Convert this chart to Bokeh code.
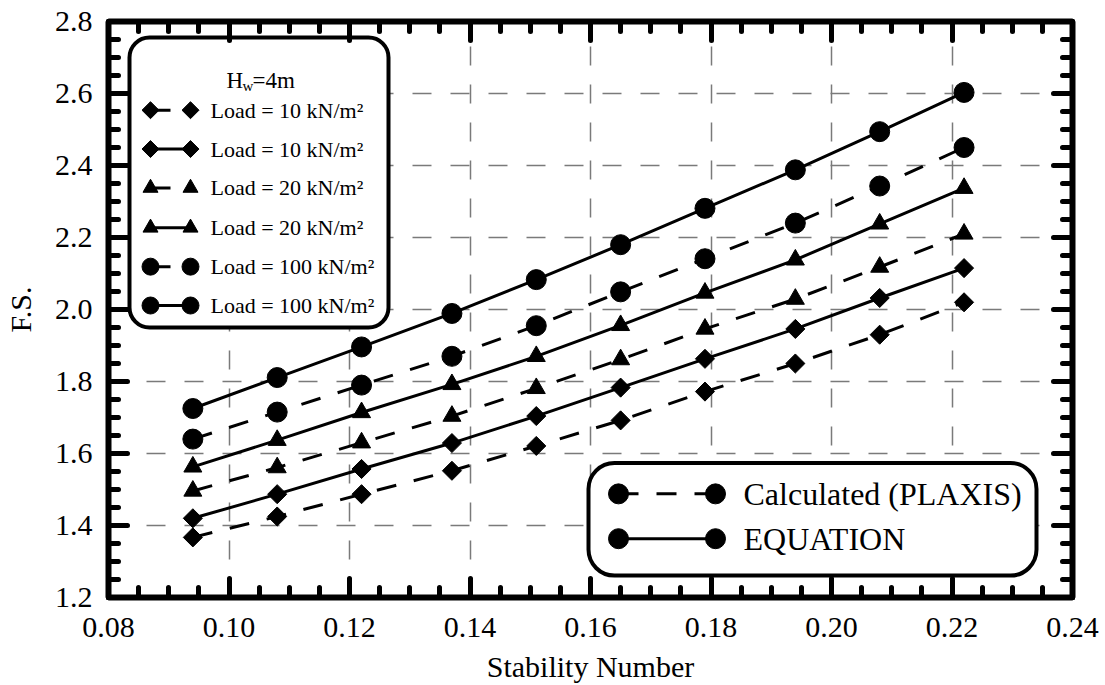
import numpy as np
from bokeh.plotting import figure
from bokeh.models import (Range1d, LinearAxis, FixedTicker, PrintfTickFormatter,
                          CustomJSTickFormatter, BoxAnnotation, Label)
from bokeh.embed import file_html
from bokeh.resources import INLINE

# ---------------- data ----------------
stability_number = [0.094, 0.108, 0.122, 0.137, 0.151, 0.165, 0.179, 0.194, 0.208, 0.222]
fs_plaxis_10 = [1.367, 1.425, 1.487, 1.552, 1.621, 1.692, 1.772, 1.850, 1.930, 2.020]
fs_equation_10 = [1.420, 1.487, 1.557, 1.629, 1.704, 1.783, 1.863, 1.946, 2.032, 2.115]
fs_plaxis_20 = [1.496, 1.561, 1.630, 1.704, 1.781, 1.861, 1.946, 2.029, 2.118, 2.210]
fs_equation_20 = [1.563, 1.637, 1.714, 1.792, 1.870, 1.956, 2.046, 2.138, 2.238, 2.337]
fs_plaxis_100 = [1.640, 1.715, 1.790, 1.870, 1.955, 2.049, 2.141, 2.240, 2.343, 2.450]
fs_equation_100 = [1.725, 1.811, 1.896, 1.989, 2.083, 2.180, 2.281, 2.388, 2.494, 2.603]

x_ticks = [0.08, 0.10, 0.12, 0.14, 0.16, 0.18, 0.20, 0.22, 0.24]
y_ticks = [1.2, 1.4, 1.6, 1.8, 2.0, 2.2, 2.4, 2.6, 2.8]
load_labels = ["Load = 10 kN/m\u00b2", "Load = 10 kN/m\u00b2",
               "Load = 20 kN/m\u00b2", "Load = 20 kN/m\u00b2",
               "Load = 100 kN/m\u00b2", "Load = 100 kN/m\u00b2"]
method_labels = ["Calculated (PLAXIS)", "EQUATION"]

# ---------------- layout ----------------
W, H = 1105, 685
FL, FR, FT, FB = 108, 1072, 21, 599
FONT = "'Liberation Serif'"
DASH = "20 18"

p = figure(width=W, height=H, output_backend="svg", toolbar_location=None,
           x_range=Range1d(x_ticks[0], x_ticks[-1]),
           y_range=Range1d(y_ticks[0], y_ticks[-1]),
           min_border_left=FL, min_border_right=W - FR,
           min_border_top=FT, min_border_bottom=H - FB,
           x_axis_label="Stability Number", y_axis_label="F.S.")
p.background_fill_color = "white"
p.border_fill_color = "white"
p.outline_line_color = "black"
p.outline_line_width = 6

x_minor = [round(v, 3) for v in np.arange(x_ticks[0], x_ticks[-1] + 1e-9, 0.005)]
y_minor = [round(v, 3) for v in np.arange(y_ticks[0], y_ticks[-1] + 1e-9, 0.05)]
xticker = FixedTicker(ticks=x_ticks, minor_ticks=x_minor)
yticker = FixedTicker(ticks=y_ticks, minor_ticks=y_minor)

def style_axis(ax):
    ax.axis_line_color = None
    ax.major_tick_in = 19
    ax.major_tick_out = 0
    ax.minor_tick_in = 10
    ax.minor_tick_out = 0
    ax.major_tick_line_width = 5
    ax.minor_tick_line_width = 5
    ax.major_tick_line_color = "black"
    ax.minor_tick_line_color = "black"
    ax.major_tick_line_cap = "round"
    ax.minor_tick_line_cap = "round"
    ax.major_label_text_font = FONT
    ax.major_label_text_font_size = "30px"
    ax.major_label_text_color = "black"
    ax.axis_label_text_font = FONT
    ax.axis_label_text_font_size = "30px"
    ax.axis_label_text_font_style = "normal"
    ax.axis_label_text_color = "black"

xa = p.xaxis[0]
ya = p.yaxis[0]
xa.ticker = xticker
ya.ticker = yticker
xa.formatter = PrintfTickFormatter(format="%.2f")
ya.formatter = PrintfTickFormatter(format="%.1f")
style_axis(xa)
style_axis(ya)
xa.major_label_standoff = 20
xa.axis_label_standoff = 10
ya.major_label_standoff = 16
ya.axis_label_standoff = 15

blank = CustomJSTickFormatter(code="return ''")
top_axis = LinearAxis(ticker=xticker, formatter=blank)
right_axis = LinearAxis(ticker=yticker, formatter=blank)
style_axis(top_axis)
style_axis(right_axis)
top_axis.major_label_standoff = 0
right_axis.major_label_standoff = 0
p.add_layout(top_axis, "above")
p.add_layout(right_axis, "right")

for g, t in ((p.xgrid[0], xticker), (p.ygrid[0], yticker)):
    g.ticker = t
    g.grid_line_color = "#7a7a7a"
    g.grid_line_width = 1.5
    g.grid_line_dash = "19 19"

# ---------------- data series ----------------
series = [
    (fs_plaxis_10, DASH, "square", 13.5, np.pi / 4),
    (fs_equation_10, "solid", "square", 13.5, np.pi / 4),
    (fs_plaxis_20, DASH, "triangle", 18, 0.0),
    (fs_equation_20, "solid", "triangle", 18, 0.0),
    (fs_plaxis_100, DASH, "circle", 20, 0.0),
    (fs_equation_100, "solid", "circle", 20, 0.0),
]
for ys, dash, marker, size, ang in series:
    p.line(stability_number, ys, line_color="black", line_width=3, line_dash=dash)
    p.scatter(stability_number, ys, marker=marker, size=size, angle=ang,
              fill_color="black", line_color="black")

# ---------------- custom legends (canvas-pixel coordinate system) ----------------
p.extra_x_ranges = {"px": Range1d(FL, FR)}
p.extra_y_ranges = {"py": Range1d(FB, FT)}
kw = dict(x_range_name="px", y_range_name="py")

box1 = BoxAnnotation(left=129, right=388, top=37, bottom=328, fill_color="white",
                     fill_alpha=1.0, line_color="black", line_alpha=1.0, line_width=4,
                     border_radius=20, level="underlay", **kw)
box2 = BoxAnnotation(left=588, right=1036, top=464, bottom=577, fill_color="white",
                     fill_alpha=1.0, line_color="black", line_alpha=1.0, line_width=4,
                     border_radius=26, level="underlay", **kw)
p.add_layout(box1)
p.add_layout(box2)

TXT = dict(text_font=FONT, text_color="black")

# title H_w=4m
p.add_layout(Label(x=226, y=80, text="H", text_font_size="23px",
                   text_baseline="alphabetic", **TXT, **kw))
p.add_layout(Label(x=242, y=86, text="w", text_font_size="15px",
                   text_baseline="alphabetic", **TXT, **kw))
p.add_layout(Label(x=252, y=80, text="=4m", text_font_size="23px",
                   text_baseline="alphabetic", **TXT, **kw))

row_y = [110, 149, 188, 228, 267, 306]
leg_sizes = [12, 12, 15, 15, 17, 17]
for (ys, dash, marker, size, ang), yy, lab, ls in zip(series, row_y, load_labels, leg_sizes):
    p.line([150, 190], [yy, yy], line_color="black", line_width=3, line_dash=dash, **kw)
    p.scatter([150, 190], [yy, yy], marker=marker, size=ls, angle=ang,
              fill_color="black", line_color="black", **kw)
    p.add_layout(Label(x=210, y=yy, text=lab, text_font_size="22px",
                       text_baseline="middle", **TXT, **kw))

for yy, dash, lab in zip([495, 540], [DASH, "solid"], method_labels):
    p.line([618, 715], [yy, yy], line_color="black", line_width=3, line_dash=dash, **kw)
    p.scatter([618, 715], [yy, yy], marker="circle", size=20,
              fill_color="black", line_color="black", **kw)
    p.add_layout(Label(x=743, y=yy, text=lab, text_font_size="32px",
                       text_baseline="middle", **TXT, **kw))

open("out.html", "w").write(file_html(p, INLINE))
